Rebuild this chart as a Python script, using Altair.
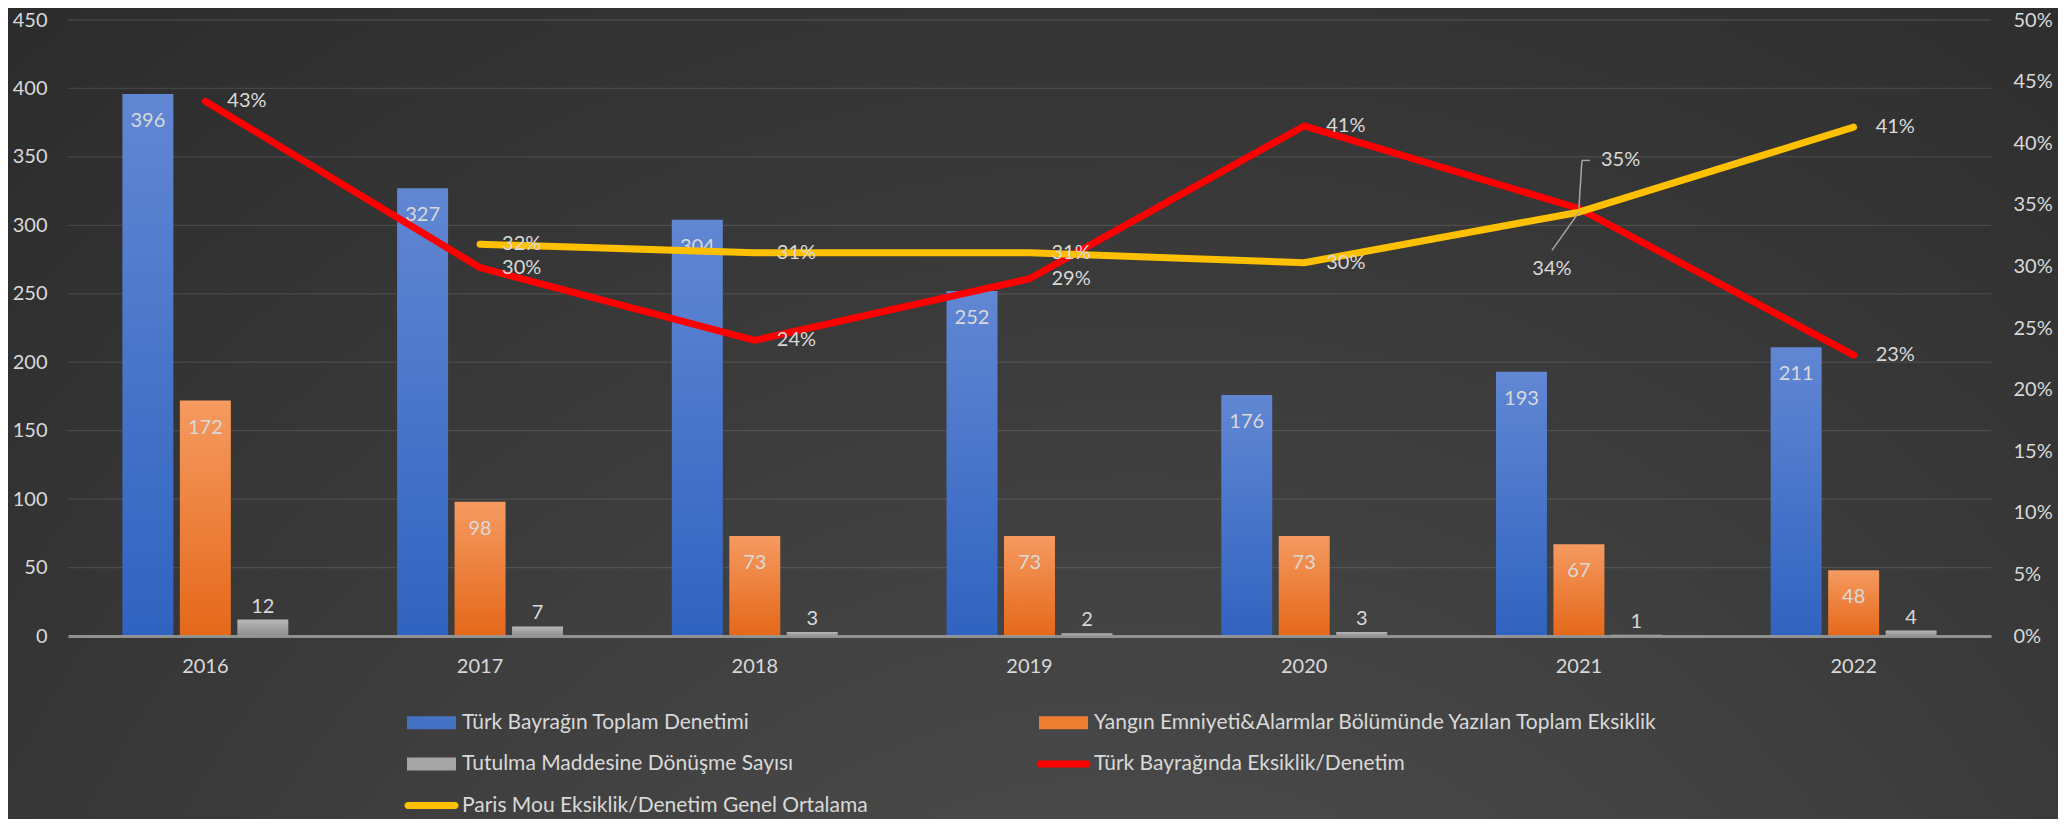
import altair as alt
import pandas as pd

# ---------------- data ----------------
years = ["2016", "2017", "2018", "2019", "2020", "2021", "2022"]
denetim = [396, 327, 304, 252, 176, 193, 211]
yangin = [172, 98, 73, 73, 73, 67, 48]
tutulma = [12, 7, 3, 2, 3, 1, 4]
turk_oran = [0.434, 0.299, 0.240, 0.290, 0.414, 0.347, 0.228]
paris_oran = [None, 0.318, 0.311, 0.311, 0.303, 0.344, 0.413]

S_DEN = "Türk Bayrağın Toplam Denetimi"
S_YAN = "Yangın Emniyeti&Alarmlar Bölümünde Yazılan Toplam Eksiklik"
S_TUT = "Tutulma Maddesine Dönüşme Sayısı"
S_TURK = "Türk Bayrağında Eksiklik/Denetim"
S_PARIS = "Paris Mou Eksiklik/Denetim Genel Ortalama"

series_names = [S_DEN, S_YAN, S_TUT, S_TURK, S_PARIS]
series_colors = ["#4472c4", "#ed7d31", "#a5a5a5", "#ff0000", "#ffc000"]
bar_series = [S_DEN, S_YAN, S_TUT]

left_ticks = [0, 50, 100, 150, 200, 250, 300, 350, 400, 450]
right_ticks = [0, 0.05, 0.10, 0.15, 0.20, 0.25, 0.30, 0.35, 0.40, 0.45, 0.50]
grid_values = [50, 100, 150, 200, 250, 300, 350, 400, 450]

# label positions that were moved in the original (2021)
moved_label_year = "2021"
moved_turk_label_y = 0.386
moved_paris_label_y = 0.298
leader_turk_end = 0.386
leader_paris_end = 0.313

# ---------------- tables ----------------
bars = pd.DataFrame(
    [{"year": y, "series": s, "value": v}
     for s, vals in [(S_DEN, denetim), (S_YAN, yangin), (S_TUT, tutulma)]
     for y, v in zip(years, vals)]
)

line_rows = []
for s, vals in [(S_TURK, turk_oran), (S_PARIS, paris_oran)]:
    for y, v in zip(years, vals):
        if v is None:
            continue
        side = "right"
        ly = v
        if y == moved_label_year and s == S_TURK:
            ly = moved_turk_label_y
        if y == moved_label_year and s == S_PARIS:
            ly = moved_paris_label_y
            side = "left"
        line_rows.append({"year": y, "series": s, "value": v, "label_y": ly, "side": side})
lines = pd.DataFrame(line_rows)

turk_2021 = turk_oran[years.index(moved_label_year)]
paris_2021 = paris_oran[years.index(moved_label_year)]
leaders = pd.DataFrame([
    {"seg": "a", "year": moved_label_year, "y": turk_2021, "y2": leader_turk_end},
    {"seg": "b", "year": moved_label_year, "y": leader_turk_end, "y2": leader_turk_end},
    {"seg": "c", "year": moved_label_year, "y": paris_2021, "y2": leader_paris_end},
])

grid_df = pd.DataFrame({"v": grid_values})
legend_df = pd.DataFrame({"series": series_names})

# ---------------- styles ----------------
TOP = 12
W, H = 1923, 616
FONT = "Lato"
TXT = "#d9d9d9"

x_axis = alt.Axis(title=None, labelAngle=0, domain=True, domainColor="#9a9a9a",
                  domainWidth=3, domainOpacity=0.9, ticks=False, grid=False,
                  labelPadding=30, labelBaseline="middle", labelFontSize=20,
                  labelColor=TXT, labelFont=FONT, zindex=1)
x_scale = alt.Scale(domain=years, paddingInner=0.396, paddingOuter=0.198)


def X():
    return alt.X("year:N", sort=years, scale=x_scale, axis=x_axis)


left_axis = alt.Axis(title=None, orient="left", values=left_ticks, grid=False, domain=False,
                     ticks=False, labelPadding=21, labelFontSize=20, labelColor=TXT,
                     labelFont=FONT, zindex=1)
left_scale = alt.Scale(domain=[0, 450], nice=False)

right_axis = alt.Axis(title=None, orient="right", values=right_ticks, format=".0%", grid=False,
                      domain=False, ticks=False, labelPadding=22, labelFontSize=20,
                      labelColor=TXT, labelFont=FONT, zindex=1)
right_scale = alt.Scale(domain=[0, 0.5], nice=False)

xoff = alt.XOffset("series:N", scale=alt.Scale(domain=bar_series, paddingInner=0.113, paddingOuter=0))


def vgrad(top, bottom):
    return alt.LinearGradient(gradient="linear", x1=0, x2=0, y1=0, y2=1,
                              stops=[alt.GradientStop(color=top, offset=0),
                                     alt.GradientStop(color=bottom, offset=1)])


bar_grads = {
    S_DEN: vgrad("#6187d3", "#3063c0"),
    S_YAN: vgrad("#f59a60", "#e5681a"),
    S_TUT: vgrad("#b8b8b8", "#8e8e8e"),
}

# ---------------- background ----------------
bg = alt.Chart(alt.Data(values=[{"k": 1}])).mark_rect(
    color=alt.RadialGradient(
        gradient="radial", x1=0.55, y1=0.95, r1=0, x2=0.55, y2=0.95, r2=0.95,
        stops=[alt.GradientStop(color="#555555", offset=0),
               alt.GradientStop(color="#3a3a3a", offset=0.55),
               alt.GradientStop(color="#272727", offset=1)]),
).encode(x=alt.value(-60), x2=alt.value(W + 67), y=alt.value(-TOP), y2=alt.value(H + 183))

grid = alt.Chart(grid_df).mark_rule(color="#ffffff", opacity=0.11, strokeWidth=1.3).encode(
    y=alt.Y("v:Q", scale=left_scale, axis=left_axis)
)

bar_layers = []
for s in bar_series:
    bar_layers.append(
        alt.Chart(bars).transform_filter(alt.datum.series == s).mark_bar(color=bar_grads[s]).encode(
            x=X(), xOffset=xoff,
            y=alt.Y("value:Q", scale=left_scale, axis=left_axis),
        )
    )

bar_text_in = alt.Chart(bars).transform_filter(
    (alt.datum.series == S_DEN) | (alt.datum.series == S_YAN)
).mark_text(font=FONT, fontSize=20, color=TXT, baseline="middle", dy=27).encode(
    x=X(), xOffset=xoff,
    y=alt.Y("value:Q", scale=left_scale, axis=left_axis),
    text=alt.Text("value:Q"),
)
bar_text_out = alt.Chart(bars).transform_filter(alt.datum.series == S_TUT).mark_text(
    font=FONT, fontSize=20, color=TXT, baseline="middle", dy=-13).encode(
    x=X(), xOffset=xoff,
    y=alt.Y("value:Q", scale=left_scale, axis=left_axis),
    text=alt.Text("value:Q"),
)

bars_layer = alt.layer(bg, grid, *bar_layers, bar_text_in, bar_text_out)

# ---------------- lines ----------------
def line_layer(series, color):
    return alt.Chart(lines).transform_filter(alt.datum.series == series).mark_line(
        color=color, strokeWidth=7, strokeCap="round", strokeJoin="round").encode(
        x=X(), y=alt.Y("value:Q", scale=right_scale, axis=right_axis),
        order=alt.Order("year:N"),
    )


red_line = line_layer(S_TURK, "#ff0000")
yellow_line = line_layer(S_PARIS, "#ffc000")


def leader(seg, xo, x2o):
    return alt.Chart(leaders).transform_filter(alt.datum.seg == seg).mark_rule(
        color="#a6a6a6", strokeWidth=1.5, xOffset=xo, x2Offset=x2o).encode(
        x=alt.X("year:N", sort=years, scale=x_scale, axis=x_axis, bandPosition=0.5),
        x2=alt.X2("year", bandPosition=0.5),
        y=alt.Y("y:Q", scale=right_scale, axis=right_axis),
        y2="y2:Q",
    )


lead_a = leader("a", 0, 3)
lead_b = leader("b", 3, 11)
lead_c = leader("c", 0, -27)

labels_right = alt.Chart(lines).transform_filter(alt.datum.side == "right").mark_text(
    font=FONT, fontSize=20, color=TXT, align="left", baseline="middle", dx=22).encode(
    x=X(), y=alt.Y("label_y:Q", scale=right_scale, axis=right_axis),
    text=alt.Text("value:Q", format=".0%"),
)
labels_left = alt.Chart(lines).transform_filter(alt.datum.side == "left").mark_text(
    font=FONT, fontSize=20, color=TXT, align="center", baseline="middle", dx=-27).encode(
    x=X(), y=alt.Y("label_y:Q", scale=right_scale, axis=right_axis),
    text=alt.Text("value:Q", format=".0%"),
)

lines_layer = alt.layer(red_line, yellow_line, lead_a, lead_b, lead_c, labels_right, labels_left)

# ---------------- legend ----------------
RECT = "M-1,-0.265H1V0.265H-1Z"
LINE = "M-0.96,-0.143H0.96A0.143,0.143,0,0,1,0.96,0.143H-0.96A0.143,0.143,0,0,1,-0.96,-0.143Z"
series_shapes = [RECT, RECT, RECT, LINE, LINE]

leg = alt.Legend(title=None, orient="none", legendX=339, legendY=678, columns=2,
                 direction="horizontal",
                 columnPadding=168, rowPadding=6.5, symbolSize=2401, symbolOpacity=1,
                 symbolStrokeWidth=0, labelFont=FONT, labelFontSize=21, labelColor=TXT,
                 labelOffset=6, labelLimit=1500, padding=0)

legend_layer = alt.Chart(legend_df).mark_point(filled=True, opacity=0).encode(
    color=alt.Color("series:N", scale=alt.Scale(domain=series_names, range=series_colors), legend=leg),
    shape=alt.Shape("series:N", scale=alt.Scale(domain=series_names, range=series_shapes), legend=leg),
)

chart = alt.layer(bars_layer, lines_layer, legend_layer).resolve_scale(
    y="independent"
).properties(
    width=W, height=H,
    autosize=alt.AutoSizeParams(type="none"),
    padding={"left": 60, "top": TOP, "right": 67, "bottom": 183},
).configure(background="#2b2b2b", font=FONT).configure_view(stroke=None)

chart.save("out.html", embed_options={"renderer": "svg", "actions": False})
